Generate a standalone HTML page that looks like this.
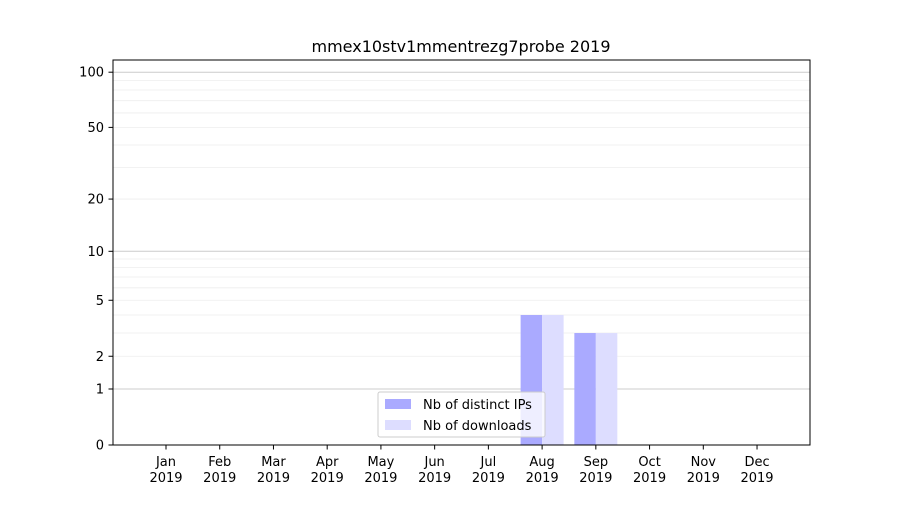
<!DOCTYPE html>
<html><head><meta charset="utf-8"><style>
body{margin:0;background:#fff;font-family:"Liberation Sans","DejaVu Sans",sans-serif}
svg text{font-family:"DejaVu Sans","Liberation Sans",sans-serif}
</style></head><body>
<svg id="chart" width="900" height="500" xmlns="http://www.w3.org/2000/svg">
<text x="461" y="52" text-anchor="middle" font-size="16">mmex10stv1mmentrezg7probe 2019</text>
<g id="grid"></g><g id="bars"></g><g id="axes"></g>
<rect x="113" y="60" width="697" height="385" fill="none" stroke="#000" stroke-width="1"/>
<g>
<rect x="378" y="392" width="167" height="45" fill="#fff" fill-opacity="0.8" stroke="#ccc" rx="2"/>
<rect x="385" y="399" width="26" height="10" fill="#aaaaff"/>
<text x="423" y="409" font-size="13">Nb of distinct IPs</text>
<rect x="385" y="420" width="26" height="10" fill="#ddddff"/>
<text x="423" y="430" font-size="13">Nb of downloads</text>
</g>
</svg>
<script>
const months=["Jan","Feb","Mar","Apr","May","Jun","Jul","Aug","Sep","Oct","Nov","Dec"];
const ips=[0,0,0,0,0,0,0,4,3,0,0,0];
const downloads=[0,0,0,0,0,0,0,4,3,0,0,0];
const yTicks=[0,1,2,5,10,20,50,100];
const NS="http://www.w3.org/2000/svg";
const x0=166,step=53.73,bw=21.5;
function xs(i){return x0+i*step;}
function ys(v){return 445-186*Math.log10(1+v);}
function mk(t,a,p){const e=document.createElementNS(NS,t);for(const k in a)e.setAttribute(k,a[k]);p.appendChild(e);return e;}
const grid=document.getElementById('grid'),bars=document.getElementById('bars'),axes=document.getElementById('axes');
const minors=[2,3,4,5,6,7,8,9,20,30,40,50,60,70,80,90];
minors.forEach(v=>{const l=mk('line',{x1:113,x2:810,y1:ys(v),y2:ys(v),stroke:'#eeeeee','stroke-width':0.8},grid);

});
[1,10,100].forEach(v=>{const l=mk('line',{x1:113,x2:810,y1:ys(v),y2:ys(v),stroke:'#cccccc','stroke-width':1},grid);

});
months.forEach((m,i)=>{
 if(ips[i]>0){const r=mk('rect',{x:xs(i)-bw,y:ys(ips[i]),width:bw,height:445-ys(ips[i]),fill:'#aaaaff'},bars);
 
 }
 if(downloads[i]>0){const r=mk('rect',{x:xs(i),y:ys(downloads[i]),width:bw,height:445-ys(downloads[i]),fill:'#ddddff'},bars);
 
 }
 mk('line',{x1:xs(i),x2:xs(i),y1:445,y2:449.5,stroke:'#000'},axes);
 const t=mk('text',{x:xs(i),y:466,'text-anchor':'middle','font-size':13},axes);
 
 
 t.textContent=m;
 const t2=mk('text',{x:xs(i),y:482,'text-anchor':'middle','font-size':13},axes);
 
 
 t2.textContent='2019';
});
yTicks.forEach(v=>{
 mk('line',{x1:108.5,x2:113,y1:ys(v),y2:ys(v),stroke:'#000'},axes);
 const t=mk('text',{x:104,y:ys(v)+4.5,'text-anchor':'end','font-size':13},axes);
 
 
 t.textContent=v;
});
</script>
</body></html>
